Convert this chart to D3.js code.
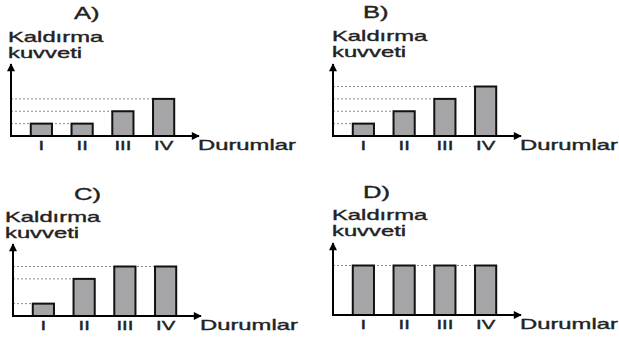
<!DOCTYPE html>
<html>
<head>
<meta charset="utf-8">
<script src="https://cdn.jsdelivr.net/npm/d3@7"></script>
<style>
  body { margin: 0; background: #fff; }
  text { font-family: "Liberation Sans", Arial, sans-serif; fill: #222; stroke: #222; stroke-width: 0.35px; }
</style>
</head>
<body>
<svg id="chart" width="619" height="337"></svg>
<script>
var categories = ["I", "II", "III", "IV"];
var titles = ["A)", "B)", "C)", "D)"];
var valuesA = [1, 1, 2, 3];
var valuesB = [1, 2, 3, 4];
var valuesC = [1, 3, 4, 4];
var valuesD = [4, 4, 4, 4];
var yLabel = ["Kaldırma", "kuvveti"];
var xLabel = "Durumlar";

var series = [valuesA, valuesB, valuesC, valuesD];

// where each small chart sits (axis corner) and where its texts go
var layout = [
  {ox: 11,  oy: 136, tx: 74,  ty: 19,  lx: 8,   ly: 42},
  {ox: 333, oy: 136, tx: 363, ty: 18,  lx: 332, ly: 41},
  {ox: 13,  oy: 316, tx: 74,  ty: 200, lx: 5,   ly: 222},
  {ox: 333, oy: 315, tx: 363, ty: 198, lx: 332, ly: 220}
]

var svg = d3.select("#chart")
var sx = 1.7   // the picture's lettering is stretched sideways

svg.append("defs").append("marker")
   .attr("id", "arrow")
   .attr("viewBox", "0 0 10 10")
   .attr("refX", 9).attr("refY", 5)
   .attr("markerWidth", 5).attr("markerHeight", 4)
   .attr("markerUnits", "strokeWidth")
   .attr("orient", "auto")
   .append("path").attr("d", "M0,0L10,5L0,10Z").attr("fill", "#000")

function stretched(sel, x, y, s) {
  return sel.attr("transform", `translate(${x},${y}) scale(${s},1)`)
}

series.forEach(function(vals, i) {
  var p = layout[i]
  var g = svg.append("g").attr("transform", `translate(${p.ox},${p.oy})`)

  var x = d3.scaleBand()
            .domain(categories)
            .range([10, 173])
            .paddingInner(0.48)
            .paddingOuter(0.24)

  var y = d3.scaleLinear()
            .domain([0, 4])
            .range([0, -49.5])

  var data = categories.map((c, k) => ({cat: c, v: vals[k]}))

  // dashed guide lines, one per level, reaching the last bar at that level
  var levels = [...new Set(vals)]
  g.selectAll(".guide")
   .data(levels)
   .enter().append("line")
     .attr("x1", 0)
     .attr("x2", v => x(categories[vals.lastIndexOf(v)]))
     .attr("y1", v => y(v)).attr("y2", v => y(v))
     .attr("stroke", "#8a8a8a")
     .attr("stroke-width", 1)
     .attr("stroke-dasharray", "2,2")

  g.selectAll("rect")
   .data(data)
   .enter().append("rect")
     .attr("x", d => x(d.cat))
     .attr("y", d => y(d.v))
     .attr("width", x.bandwidth())
     .attr("height", d => y(0) - y(d.v))
     .attr("fill", "#a5a5a8")
     .attr("stroke", "#111")
     .attr("stroke-width", 2)

  // axes with arrow heads
  g.append("line").attr("x1", 0).attr("y1", 0).attr("x2", 0).attr("y2", -72)
   .attr("stroke", "#000").attr("stroke-width", 2).attr("marker-end", "url(#arrow)")
  g.append("line").attr("x1", -1).attr("y1", 0).attr("x2", 188).attr("y2", 0)
   .attr("stroke", "#000").attr("stroke-width", 2).attr("marker-end", "url(#arrow)")

  var ax = g.append("g").call(d3.axisBottom(x).tickSize(0).tickPadding(0))
  ax.select(".domain").remove()
  ax.selectAll("text")
    .attr("y", 14).attr("dy", null)
    .attr("transform", `scale(${sx},1)`)
    .style("font-family", '"Liberation Sans", Arial, sans-serif')
    .style("font-size", "12px")
    .attr("fill", "#2a2a3a")

  stretched(g.append("text"), 187, 14, sx)
    .style("font-size", "14px")
    .text(xLabel)

  stretched(svg.append("text"), p.tx, p.ty, 1.6)
    .style("font-size", "16px")
    .text(titles[i])

  yLabel.forEach(function(t, k) {
    stretched(svg.append("text"), p.lx, p.ly + k * 16, sx)
      .style("font-size", "14px")
      .text(t)
  })
})
</script>
</body>
</html>
